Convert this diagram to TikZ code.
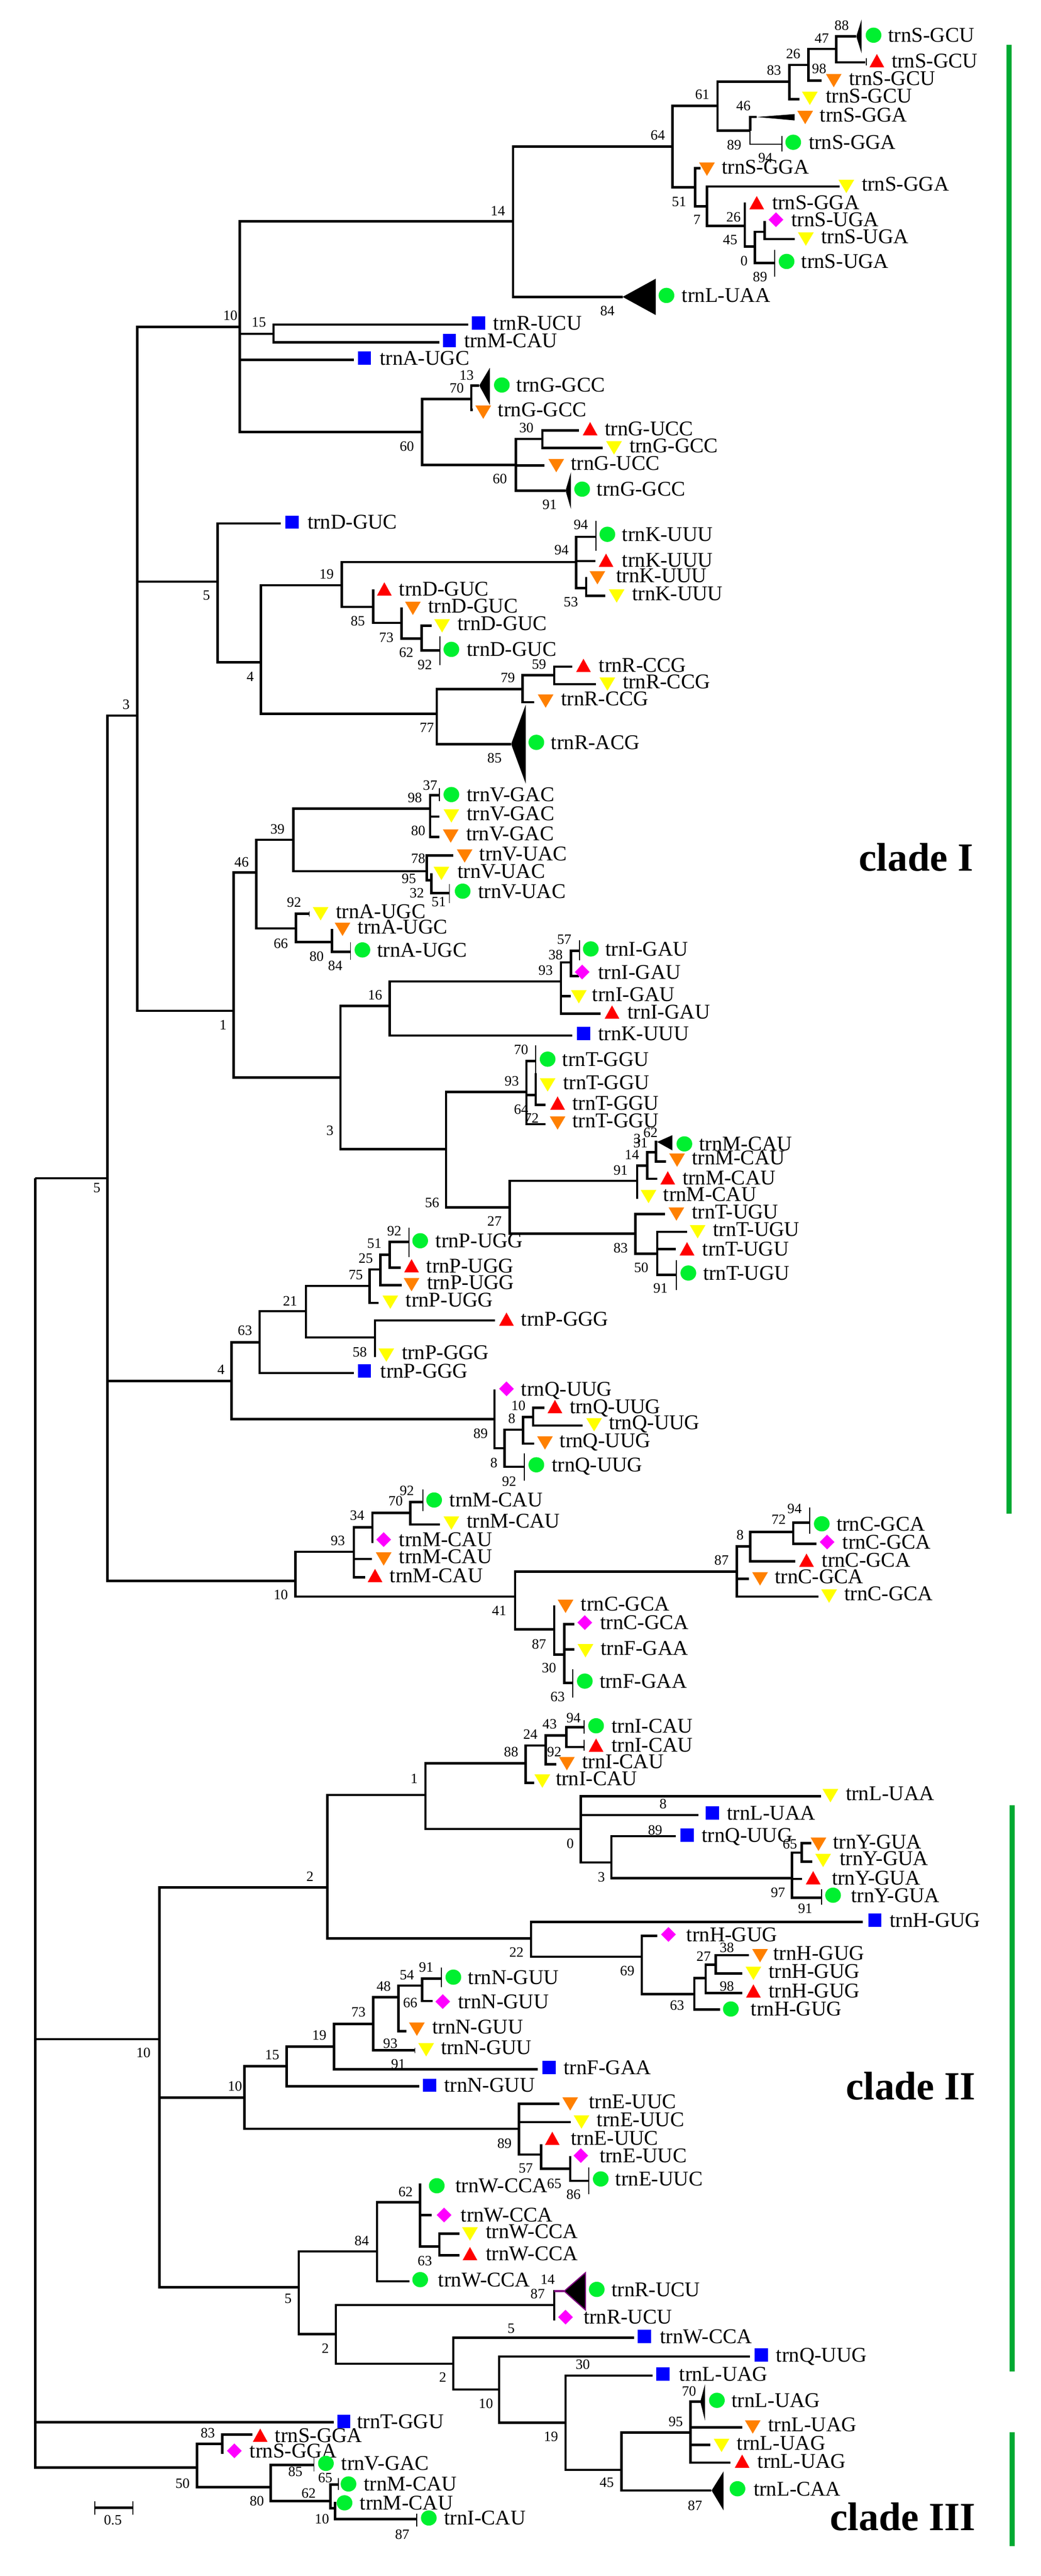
\documentclass[tikz,border=0pt]{standalone}
\usepackage{fontspec}
\setmainfont{Liberation Serif}
\usetikzlibrary{shapes.geometric}
\definecolor{mgreen}{HTML}{00F030}
\definecolor{morange}{HTML}{FF8000}
\definecolor{myellow}{HTML}{FFFF00}
\definecolor{mblue}{HTML}{0000FF}
\definecolor{mmag}{HTML}{FF00FF}
\definecolor{mred}{HTML}{FF0000}
\definecolor{cbar}{HTML}{00AA33}
\definecolor{mpurple}{HTML}{800080}
\tikzset{
 br/.style={line width=2.5pt,black},
 brthin/.style={line width=1.3pt,black},
 tk/.style={line width=1pt,black},
 lab/.style={anchor=west,inner sep=0pt,font=\fontsize{22}{26}\selectfont,text height=14.5pt,text depth=0pt},
 boot/.style={inner sep=0pt,font=\fontsize{15}{17}\selectfont},
 clade/.style={inner sep=0pt,font=\fontsize{42}{48}\selectfont\bfseries},
 mk/.style={inner sep=0pt,minimum width=15.5pt,minimum height=14pt},
 mgc/.style={ellipse,mk,fill=mgreen,minimum width=16.5pt,minimum height=16pt},
 mbs/.style={rectangle,mk,fill=mblue,minimum width=14pt,minimum height=14pt},
 mrt/.style={mk,path picture={\fill[mred] (path picture bounding box.south west)--(path picture bounding box.south east)--(path picture bounding box.north)--cycle;}},
 mot/.style={mk,minimum width=16.5pt,path picture={\fill[morange] (path picture bounding box.north west)--(path picture bounding box.north east)--(path picture bounding box.south)--cycle;}},
 myt/.style={mk,minimum width=16.5pt,path picture={\fill[myellow] (path picture bounding box.north west)--(path picture bounding box.north east)--(path picture bounding box.south)--cycle;}},
 mmd/.style={mk,minimum width=15.5pt,minimum height=15.5pt,path picture={\fill[mmag] (path picture bounding box.north)--(path picture bounding box.east)--(path picture bounding box.south)--(path picture bounding box.west)--cycle;}},
 secA/.style={x=.6977pt,y=-.2551pt},
 secB/.style={x=.6977pt,y=-.2551pt,shift={(0,-400pt)}},
 secC/.style={x=.6977pt,y=-.2551pt,shift={(0,-800pt)}},
 secD/.style={x=.6977pt,y=-.2551pt,shift={(0,-1200pt)}},
 secE/.style={x=.6977pt,y=-.2551pt,shift={(0,-1600pt)}},
 secF/.style={x=.6977pt,y=-.2232pt,shift={(0,-2000pt)}},
 secG/.style={x=.6977pt,y=-.2277pt,shift={(0,-2350pt)}},
}
\newcount\bootc
\newcount\leafc
\def\brs{br}
\def\Tr#1#2#3#4{\coordinate (#2) at (#3,#4);\draw[br] (#1) |- (#2);}
\def\Bs#1#2#3{\global\advance\bootc by 1 \node[boot] (bs\the\bootc) at (#1,#2) {#3};}
\def\Tk#1#2#3{\draw[tk] (#1,#2)--(#1,#3);}
\def\LL#1#2#3#4#5#6#7#8{\global\advance\leafc by 1
 \edef\lid{lf\the\leafc}
 \coordinate (#2) at (#3,#4);
 \draw[\brs] (#1) |- (#2);
 \node[\tp] (\lid) at (#5,#6) {};
 \node[lab,yshift=\ls] (\lid t) at (#7,#6) {#8};}
\def\Lg{\def\tp{mgc}\def\ls{0pt}\LL}
\def\Lr{\def\tp{mrt}\def\ls{0pt}\LL}
\def\Lo{\def\tp{mot}\def\ls{2.5pt}\LL}
\def\Ly{\def\tp{myt}\def\ls{2.5pt}\LL}
\def\Lb{\def\tp{mbs}\def\ls{0pt}\LL}
\def\Lm{\def\tp{mmd}\def\ls{0pt}\LL}
\def\Fan#1#2#3#4{\fill[black] (#1) -- (#2,#3) -- (#2,#4) -- cycle;}
\begin{document}
\begin{tikzpicture}
\useasboundingbox (0,0) rectangle (1094pt,-2707pt);
% clade bars
\fill[cbar] (1057.7pt,-47.2pt) rectangle (1063.3pt,-1590.8pt);
\fill[cbar] (1061.2pt,-1897pt) rectangle (1066.8pt,-2492.3pt);
\fill[cbar] (1061.2pt,-2556pt) rectangle (1066.8pt,-2675.5pt);
%
\begin{scope}[secD]
\coordinate (R) at (53,150);
\Tr{R}{d162}{162}{150}
\Bs{146}{190}{5}
\end{scope}
\begin{scope}[secB]
\Tr{d162}{b207}{207}{1380}
\Bs{190}{1335}{3}
\end{scope}
\begin{scope}[secA]
\Tr{b207}{a361}{361}{1347}\Bs{347}{1300}{10}
\Tr{a361}{a773}{773}{912}\Bs{750}{868}{14}
\Tr{a773}{a1013}{1013}{604}\Bs{991}{558}{64}
\Lg{a773}{t1}{938}{1223}{1004}{1217}{1027}{trnL-UAA}\Fan{t1}{988}{1148}{1298}\Bs{915}{1280}{84}
\Tr{a1013}{a1081}{1081}{436}\Bs{1058}{390}{61}
\Tr{a1081}{a1189}{1189}{337}\Bs{1166}{290}{83}
\Tr{a1189}{a1218}{1218}{267}\Bs{1195}{222}{26}
\Ly{a1189}{t2}{1204}{408}{1220}{405}{1244}{trnS-GCU}
\Tr{a1218}{a1260}{1260}{202}\Bs{1238}{158}{47}
\Lo{a1218}{t3}{1238}{332}{1256}{332}{1279}{trnS-GCU}\Bs{1234}{283}{98}
\Lg{a1260}{t4}{1290}{150}{1316}{145}{1338}{trnS-GCU}\Fan{t4}{1298}{80}{220}\Bs{1268}{105}{88}
\Lr{a1260}{t5}{1304}{257}{1321}{250}{1343}{trnS-GCU}\Tk{1305}{240}{270}
\Tr{a1081}{a1130}{1130}{538}\Bs{1120}{437}{46}
\Lo{a1130}{t6}{1140}{482}{1213}{484}{1235}{trnS-GGA}\Fan{t6}{1197}{470}{496}\Bs{1106}{597}{89}
{\def\brs{brthin}\Lg{a1130}{t7}{1178}{594}{1195}{586}{1218}{trnS-GGA}}\Tk{1178}{560}{625}
\Tr{a1013}{a1047}{1047}{772}\Bs{1023}{830}{51}
\Lo{a1047}{t8}{1055}{693}{1065}{697}{1087}{trnS-GGA}\Bs{1153}{650}{94}
\Tr{a1047}{a1065}{1065}{850}\Bs{1050}{905}{7}
\Ly{a1065}{t9}{1265}{768}{1275}{768}{1298}{trnS-GGA}
\Tr{a1065}{a1122}{1122}{930}\Bs{1105}{895}{26}
\Lr{a1122}{t10}{1122}{835}{1140}{835}{1163}{trnS-GGA}
\Tr{a1122}{a1137}{1137}{1015}\Bs{1100}{988}{45}
\Tr{a1137}{a1152}{1152}{955}
\Lm{a1152}{t11}{1152}{910}{1169}{905}{1192}{trnS-UGA}
\Ly{a1152}{t12}{1197}{985}{1214}{985}{1237}{trnS-UGA}
\Lg{a1137}{t13}{1167}{1083}{1185}{1077}{1207}{trnS-UGA}\Tk{1167}{1030}{1140}\Bs{1121}{1075}{0}\Bs{1145}{1140}{89}
\Tr{a361}{a412}{412}{1375}\Bs{390}{1328}{15}
\Lb{a412}{t14}{705}{1337}{721}{1331}{743}{trnR-UCU}
\Lb{a412}{t15}{662}{1410}{677}{1403}{699}{trnM-CAU}
\Lb{a361}{t16}{533}{1482}{549}{1475}{572}{trnA-UGC}
\end{scope}
\begin{scope}[secB]
\Tr{a361}{b636}{636}{212}\Bs{613}{270}{60}
\Tr{b636}{b710}{710}{76}\Bs{688}{32}{70}
\Lg{b710}{t17}{722}{20}{756}{18}{778}{trnG-GCC}\Fan{t17}{738}{-53}{100}\Bs{703}{-23}{13}
\Lo{b710}{t18}{712}{120}{728}{130}{750}{trnG-GCC}
\Tr{b636}{b777}{777}{347}\Bs{753}{405}{60}
\Tr{b777}{b817}{817}{240}\Bs{793}{195}{30}
\Lr{b817}{t19}{872}{205}{889}{198}{911}{trnG-UCC}
\Ly{b817}{t20}{908}{277}{925}{277}{948}{trnG-GCC}
\Lo{b777}{t21}{820}{350}{838}{350}{860}{trnG-UCC}
\Lg{b777}{t22}{852}{453}{877}{447}{899}{trnG-GCC}\Fan{t22}{860}{378}{528}\Bs{828}{510}{91}
% second block
\Tr{b207}{b328}{328}{828}\Bs{311}{885}{5}
\Lb{b328}{t23}{423}{588}{440}{583}{463}{trnD-GUC}
\Tr{b328}{b393}{393}{1160}\Bs{377}{1220}{4}
\Tr{b393}{b515}{515}{843}\Bs{492}{797}{19}
\Tr{b515}{b868}{868}{747}\Bs{846}{697}{94}
\Lg{b868}{t24}{898}{643}{915}{633}{937}{trnK-UUU}\Tk{898}{578}{700}\Bs{875}{593}{94}
\Lr{b868}{t25}{897}{743}{913}{740}{937}{trnK-UUU}
\Tr{b868}{b883}{883}{855}\Bs{860}{912}{53}
\Lo{b883}{t26}{883}{810}{900}{812}{928}{trnK-UUU}
\Ly{b883}{t27}{912}{887}{929}{887}{952}{trnK-UUU}
\Tr{b515}{b562}{562}{932}\Bs{539}{990}{85}
\Lr{b562}{t28}{562}{860}{579}{858}{601}{trnD-GUC}
\Tr{b562}{b605}{605}{998}\Bs{582}{1058}{73}
\Lo{b605}{t29}{605}{935}{622}{938}{645}{trnD-GUC}
\Tr{b605}{b635}{635}{1063}\Bs{612}{1120}{62}
\Ly{b635}{t30}{650}{1010}{666}{1010}{689}{trnD-GUC}
\Lg{b635}{t31}{663}{1112}{680}{1107}{703}{trnD-GUC}\Tk{663}{1052}{1172}\Bs{640}{1170}{92}
\Tr{b393}{b658}{658}{1373}\Bs{643}{1430}{77}
\Tr{b658}{b787}{787}{1270}\Bs{765}{1223}{79}
\Tr{b787}{b835}{835}{1213}\Bs{812}{1168}{59}
\Lo{b787}{t32}{805}{1325}{822}{1320}{845}{trnR-CCG}
\Lr{b835}{t33}{862}{1178}{879}{1173}{902}{trnR-CCG}
\Ly{b835}{t34}{898}{1250}{915}{1250}{938}{trnR-CCG}
\Lg{b658}{t35}{770}{1497}{808}{1490}{830}{trnR-ACG}\Fan{t35}{792}{1335}{1660}\Bs{745}{1555}{85}
\end{scope}
\begin{scope}[secC]
\Tr{b207}{c352}{352}{1028}\Bs{336}{1087}{1}
\Tr{c352}{c386}{386}{458}\Bs{364}{415}{46}
\Tr{c386}{c442}{442}{323}\Bs{418}{280}{39}
\Tr{c442}{c648}{648}{195}\Bs{625}{150}{98}
\Lg{c648}{t36}{662}{140}{680}{137}{703}{trnV-GAC}\Tk{662}{110}{165}\Bs{648}{100}{37}
\Ly{c648}{t37}{662}{228}{680}{225}{703}{trnV-GAC}
\Lo{c648}{t38}{662}{312}{679}{308}{702}{trnV-GAC}\Bs{630}{287}{80}
\Tr{c442}{c643}{643}{453}\Bs{616}{483}{95}
\Lo{c643}{t39}{683}{388}{700}{390}{722}{trnV-UAC}\Bs{630}{400}{78}
\Tr{c643}{c650}{650}{490}\Bs{628}{542}{32}
\Ly{c650}{t40}{650}{462}{665}{462}{689}{trnV-UAC}
\Lg{c650}{t41}{677}{543}{697}{535}{720}{trnV-UAC}\Tk{677}{505}{585}\Bs{661}{578}{51}
\Tr{c386}{c446}{446}{688}\Bs{423}{750}{66}
\Ly{c446}{t42}{466}{628}{483}{628}{506}{trnA-UGC}\Tk{466}{618}{640}\Bs{443}{582}{92}
\Tr{c446}{c500}{500}{745}\Bs{477}{803}{80}
\Lo{c500}{t43}{500}{690}{516}{692}{539}{trnA-UGC}
\Lg{c500}{t44}{528}{785}{546}{777}{568}{trnA-UGC}\Tk{528}{745}{818}\Bs{505}{843}{84}
\Tr{c352}{c513}{513}{1303}\Bs{497}{1522}{3}
\Tr{c513}{c587}{587}{1008}\Bs{565}{963}{16}
\Tr{c587}{c845}{845}{907}\Bs{822}{862}{93}
\Lb{c587}{t45}{862}{1130}{879}{1122}{901}{trnK-UUU}
\Tr{c845}{c860}{860}{828}\Bs{837}{797}{38}
\Ly{c845}{t46}{860}{967}{872}{970}{892}{trnI-GAU}
\Lr{c845}{t47}{905}{1040}{922}{1033}{945}{trnI-GAU}
\Lg{c860}{t48}{873}{780}{890}{773}{912}{trnI-GAU}\Tk{873}{738}{820}\Bs{850}{735}{57}
\Lm{c860}{t49}{872}{885}{877}{868}{901}{trnI-GAU}
\end{scope}
\begin{scope}[secD]
\Tr{c513}{d672}{672}{30}
\end{scope}
\begin{scope}[secC]
\Tr{d672}{c793}{793}{1362}\Bs{771}{1317}{93}
\Lg{c793}{t50}{807}{1235}{825}{1227}{847}{trnT-GGU}\Tk{807}{1170}{1290}\Bs{785}{1187}{70}
\Tr{c793}{c807}{807}{1375}\Bs{785}{1435}{64}
\Ly{c807}{t51}{807}{1285}{825}{1333}{848}{trnT-GGU}
\Lr{c807}{t52}{822}{1415}{840}{1408}{862}{trnT-GGU}
\Lo{c793}{t53}{822}{1495}{840}{1490}{862}{trnT-GGU}\Bs{801}{1470}{72}
\end{scope}
\begin{scope}[secD]
\Bs{651}{250}{56}
\Tr{d672}{d768}{768}{270}\Bs{745}{327}{27}
\Tr{d768}{d960}{960}{160}\Bs{935}{117}{91}
\Tr{d960}{d975}{975}{98}\Bs{952}{52}{14}
\Tr{d975}{d988}{988}{42}
\Lg{d988}{t54}{990}{0}{1031}{8}{1053}{trnM-CAU}\Fan{t54}{1013}{-28}{35}\Bs{980}{-38}{62}\Bs{960}{-13}{3}\Bs{965}{5}{31}
\Lo{d988}{t55}{1003}{80}{1020}{75}{1042}{trnM-CAU}
\Lr{d975}{t56}{990}{152}{1006}{148}{1028}{trnM-CAU}
\Ly{d960}{t57}{960}{235}{977}{225}{999}{trnM-CAU}
\Tr{d768}{d957}{957}{378}\Bs{935}{437}{83}
\Lo{d957}{t58}{1002}{297}{1019}{297}{1042}{trnT-UGU}
\Tr{d957}{d990}{990}{460}\Bs{966}{518}{50}
\Ly{d990}{t59}{1035}{370}{1051}{370}{1074}{trnT-UGU}
\Lr{d990}{t60}{1018}{442}{1035}{440}{1058}{trnT-UGU}
\Lg{d990}{t61}{1019}{548}{1037}{540}{1059}{trnT-UGU}\Tk{1019}{488}{610}\Bs{995}{603}{91}
% P / Q block
\Tr{d162}{d349}{349}{985}\Bs{333}{937}{4}
\Tr{d349}{d391}{391}{825}\Bs{369}{777}{63}
\Tr{d391}{d461}{461}{697}\Bs{437}{655}{21}
\Lb{d391}{t62}{533}{952}{549}{943}{573}{trnP-GGG}
\Tr{d461}{d557}{557}{593}\Bs{536}{547}{75}
\Tr{d557}{d573}{573}{525}\Bs{551}{480}{25}
\Ly{d557}{t63}{570}{663}{588}{660}{611}{trnP-UGG}
\Tr{d573}{d587}{587}{465}\Bs{564}{418}{51}
\Lo{d573}{t64}{605}{590}{620}{588}{643}{trnP-UGG}
\Lg{d587}{t65}{616}{412}{633}{407}{656}{trnP-UGG}\Tk{616}{353}{475}\Bs{594}{368}{92}
\Lr{d587}{t66}{604}{518}{620}{510}{642}{trnP-UGG}
\Tr{d461}{d565}{565}{805}
\Lr{d565}{t67}{746}{735}{763}{730}{785}{trnP-GGG}
\Ly{d565}{t68}{565}{885}{582}{878}{605}{trnP-GGG}\Bs{542}{865}{58}
\Tr{d349}{d745}{745}{1142}\Bs{724}{1200}{89}
\Lm{d745}{t69}{745}{1020}{763}{1017}{785}{trnQ-UUG}
\Tr{d745}{d760}{760}{1262}
\Tr{d760}{d788}{788}{1185}\Bs{771}{1140}{8}
\Lg{d760}{t70}{790}{1338}{808}{1330}{831}{trnQ-UUG}\Tk{790}{1283}{1395}\Bs{744}{1322}{8}\Bs{767}{1398}{92}
\Tr{d788}{d803}{803}{1133}\Bs{781}{1087}{10}
\Lo{d788}{t71}{805}{1243}{821}{1240}{843}{trnQ-UUG}
\Lr{d803}{t72}{820}{1095}{836}{1090}{858}{trnQ-UUG}
\Ly{d803}{t73}{878}{1168}{895}{1165}{917}{trnQ-UUG}
\end{scope}
\begin{scope}[secE]
\Tr{d162}{e445}{445}{240}\Bs{423}{298}{10}
\Tr{e445}{e533}{533}{120}\Bs{509}{75}{93}
\Tr{e533}{e561}{561}{20}
\Tr{e561}{e618}{618}{-40}\Bs{538}{-30}{34}
\Lg{e618}{t74}{637}{-85}{654}{-93}{677}{trnM-CAU}\Tk{637}{-136}{-48}\Bs{596}{-88}{70}\Bs{613}{-132}{92}
\Ly{e618}{t75}{663}{8}{680}{2}{703}{trnM-CAU}
\Lm{e561}{t76}{561}{85}{578}{70}{601}{trnM-CAU}
\Lo{e533}{t77}{560}{150}{578}{150}{601}{trnM-CAU}
\Lr{e533}{t78}{550}{225}{565}{218}{587}{trnM-CAU}
\Tr{e445}{e776}{776}{305}\Bs{752}{362}{41}
\Tr{e776}{e1110}{1110}{202}\Bs{1087}{155}{87}
\Tr{e1110}{e1130}{1130}{98}\Bs{1115}{52}{8}
\Tr{e1130}{e1195}{1195}{38}\Bs{1173}{-13}{72}
\Lg{e1195}{t79}{1220}{0}{1238}{5}{1260}{trnC-GCA}\Tk{1220}{-63}{45}\Bs{1197}{-58}{94}
\Lm{e1195}{t80}{1230}{88}{1246}{80}{1269}{trnC-GCA}
\Lr{e1130}{t81}{1198}{160}{1215}{155}{1238}{trnC-GCA}
\Lo{e1110}{t82}{1128}{232}{1145}{232}{1167}{trnC-GCA}
\Ly{e1110}{t83}{1233}{305}{1249}{303}{1272}{trnC-GCA}
\Tr{e776}{e835}{835}{440}\Bs{812}{500}{87}
\Lo{e835}{t84}{835}{342}{852}{345}{875}{trnC-GCA}
\Tr{e835}{e850}{850}{543}\Bs{827}{598}{30}
\Lm{e850}{t85}{865}{418}{881}{412}{904}{trnC-GCA}
\Ly{e850}{t86}{865}{522}{882}{528}{905}{trnF-GAA}
\Lg{e850}{t87}{863}{660}{881}{653}{903}{trnF-GAA}\Tk{863}{605}{720}\Bs{840}{718}{63}
\end{scope}
\begin{scope}[secF]
\Tr{R}{f240}{240}{640}\Bs{216}{705}{10}
\end{scope}
\begin{scope}[secE]
\Tr{f240}{e493}{493}{1503}\Bs{467}{1458}{2}
\Tr{e493}{e641}{641}{1122}\Bs{624}{1055}{1}
\Tr{e641}{e792}{792}{992}\Bs{770}{945}{88}
\Tr{e792}{e822}{822}{918}\Bs{799}{873}{24}
\Ly{e792}{t88}{805}{1072}{817}{1065}{837}{trnI-CAU}
\Tr{e822}{e853}{853}{877}\Bs{828}{830}{43}
\Lo{e822}{t89}{838}{996}{854}{993}{877}{trnI-CAU}\Bs{835}{945}{92}
\Lg{e853}{t90}{880}{843}{898}{837}{921}{trnI-CAU}\Tk{880}{815}{870}\Bs{864}{805}{94}
\Lr{e853}{t91}{880}{925}{898}{917}{921}{trnI-CAU}\Tk{880}{895}{940}
\Tr{e641}{e875}{875}{1262}\Bs{859}{1322}{0}
\Ly{e875}{t92}{1237}{1127}{1251}{1125}{1274}{trnL-UAA}
\Lb{e875}{t93}{1052}{1205}{1073}{1197}{1095}{trnL-UAA}\Bs{999}{1158}{8}
\Tr{e875}{e921}{921}{1400}\Bs{906}{1460}{3}
\Lb{e921}{t94}{1018}{1292}{1035}{1288}{1057}{trnQ-UUG}\Bs{987}{1267}{89}
\Tr{e921}{e1193}{1193}{1465}\Bs{1172}{1525}{97}
\Tr{e1193}{e1208}{1208}{1360}\Bs{1190}{1325}{65}
\Lo{e1208}{t95}{1222}{1320}{1233}{1325}{1255}{trnY-GUA}
\Ly{e1208}{t96}{1224}{1397}{1240}{1392}{1265}{trnY-GUA}
\Lr{e1193}{t97}{1208}{1468}{1225}{1463}{1253}{trnY-GUA}
\Lg{e1193}{t98}{1238}{1545}{1255}{1535}{1282}{trnY-GUA}\Tk{1238}{1510}{1573}
\end{scope}
\begin{scope}[secF]
\Bs{1213}{25}{91}
\Tr{e493}{f800}{800}{165}\Bs{778}{230}{22}
\Lb{f800}{t99}{1300}{88}{1318}{80}{1340}{trnH-GUG}
\Tr{f800}{f967}{967}{252}\Bs{945}{318}{69}
\Lm{f967}{t100}{990}{153}{1007}{147}{1034}{trnH-GUG}
\Tr{f967}{f1046}{1046}{428}\Bs{1020}{482}{63}
\Tr{f1046}{f1063}{1063}{352}\Bs{1060}{250}{27}
\Lg{f1046}{t101}{1085}{500}{1101}{498}{1131}{trnH-GUG}
\Tr{f1063}{f1078}{1078}{290}\Bs{1095}{208}{38}
\Lr{f1063}{t102}{1118}{423}{1135}{413}{1158}{trnH-GUG}\Bs{1095}{392}{98}
\Lo{f1078}{t103}{1128}{245}{1145}{247}{1165}{trnH-GUG}
\Ly{f1078}{t104}{1118}{330}{1135}{330}{1158}{trnH-GUG}
\Tr{f240}{f368}{368}{915}\Bs{354}{862}{10}
\Tr{f368}{f432}{432}{768}\Bs{410}{715}{15}
\Tr{f432}{f503}{503}{675}\Bs{481}{622}{19}
\Lb{f432}{t105}{632}{862}{647}{857}{669}{trnN-GUU}
\Tr{f503}{f562}{562}{568}\Bs{540}{513}{73}
\Lb{f503}{t106}{810}{782}{827}{773}{849}{trnF-GAA}\Bs{600}{757}{91}
\Tr{f562}{f600}{600}{442}\Bs{578}{392}{48}
\Ly{f562}{t107}{625}{692}{642}{690}{664}{trnN-GUU}\Tk{625}{680}{705}\Bs{588}{660}{93}
\Tr{f600}{f636}{636}{388}\Bs{613}{338}{54}
\Lo{f600}{t108}{612}{603}{628}{593}{651}{trnN-GUU}\Bs{618}{470}{66}
\Lg{f636}{t109}{665}{355}{683}{348}{705}{trnN-GUU}\Tk{665}{303}{395}\Bs{642}{302}{91}
\Lm{f636}{t110}{652}{460}{667}{463}{690}{trnN-GUU}
\Tr{f368}{f782}{782}{1062}\Bs{760}{1130}{89}
\Lo{f782}{t111}{843}{945}{859}{945}{887}{trnE-UUC}
\Ly{f782}{t112}{860}{1030}{876}{1030}{899}{trnE-UUC}
\Tr{f782}{f815}{815}{1183}\Bs{792}{1248}{57}
\Lr{f815}{t113}{815}{1135}{832}{1107}{860}{trnE-UUC}
\Tr{f815}{f859}{859}{1250}
\Lm{f859}{t114}{859}{1190}{875}{1188}{903}{trnE-UUC}
\Lg{f859}{t115}{887}{1307}{905}{1298}{927}{trnE-UUC}\Tk{887}{1245}{1370}\Bs{835}{1320}{65}\Bs{864}{1372}{86}
\end{scope}
\begin{scope}[secG]
\Tr{f240}{g450}{450}{235}\Bs{434}{287}{5}
\Tr{g450}{g568}{568}{70}\Bs{545}{20}{84}
\Lg{g568}{t116}{617}{208}{633}{200}{660}{trnW-CCA}
\Tr{g450}{g506}{506}{452}\Bs{490}{518}{2}
\Tr{g506}{g835}{835}{317}\Bs{810}{265}{87}
\Lg{g835}{t117}{850}{253}{899}{245}{921}{trnR-UCU}
\fill[black,draw=mpurple,line width=1.2pt] (t117) -- (882,168) -- (882,340) -- cycle;
\draw[line width=2.5pt,mpurple] (835,253) -- (t117);
\Bs{825}{200}{14}
\Lm{g835}{t118}{835}{388}{852}{373}{879}{trnR-UCU}
\Tr{g506}{g683}{683}{588}\Bs{667}{650}{2}
\Lb{g683}{t119}{955}{468}{971}{462}{994}{trnW-CCA}\Bs{770}{425}{5}
\Tr{g683}{g752}{752}{707}\Bs{732}{773}{10}
\Lb{g752}{t120}{1130}{555}{1147}{548}{1169}{trnQ-UUG}\Bs{878}{592}{30}
\Tr{g752}{g852}{852}{860}\Bs{830}{925}{19}
\Lb{g852}{t121}{983}{643}{999}{635}{1023}{trnL-UAG}
\Tr{g852}{g936}{936}{1078}\Bs{914}{1135}{45}
\Tr{g936}{g1040}{1040}{905}\Bs{1018}{855}{95}
\Lg{g936}{t122}{1072}{1173}{1111}{1165}{1135}{trnL-CAA}\Fan{t122}{1090}{1085}{1265}\Bs{1047}{1242}{87}
\Lg{g1040}{t123}{1055}{763}{1080}{757}{1102}{trnL-UAG}\Fan{t123}{1062}{683}{850}\Bs{1038}{715}{70}
\Lo{g1040}{t124}{1118}{882}{1134}{880}{1157}{trnL-UAG}
\Ly{g1040}{t125}{1070}{962}{1087}{965}{1110}{trnL-UAG}
\Lr{g1040}{t126}{1100}{1045}{1118}{1038}{1141}{trnL-UAG}
\Lb{R}{t127}{503}{858}{518}{855}{538}{trnT-GGU}
\Tr{R}{g297}{297}{1067}\Bs{275}{1140}{50}
\Tr{g297}{g335}{335}{958}\Bs{313}{908}{83}
\Lr{g335}{t128}{380}{915}{392}{918}{414}{trnS-GGA}
\Lm{g335}{t129}{335}{1005}{353}{990}{376}{trnS-GGA}
\Tr{g297}{g408}{408}{1158}\Bs{387}{1222}{80}
\Lg{g408}{t130}{473}{1055}{491}{1048}{514}{trnV-GAC}\Tk{473}{1020}{1085}\Bs{445}{1085}{85}
\Tr{g408}{g498}{498}{1222}\Bs{465}{1187}{62}
\Lg{g498}{t131}{510}{1145}{525}{1143}{548}{trnM-CAU}\Tk{510}{1115}{1170}\Bs{490}{1115}{65}
\Tr{g498}{g505}{505}{1255}
\Lg{g505}{t132}{507}{1230}{519}{1230}{542}{trnM-CAU}
\Lg{g505}{t133}{628}{1305}{646}{1300}{669}{trnI-CAU}\Tk{628}{1280}{1340}\Bs{485}{1305}{10}\Bs{606}{1375}{87}
% scale bar
\coordinate (sbL) at (143,1253);
\coordinate (sbR) at (200,1253);
\draw[br] (sbL) -- (sbR);
\Tk{143}{1222}{1285}
\Tk{200}{1222}{1285}
\Bs{170}{1310}{0.5}
\node[clade] (cladeIII) at (1360,1295) {clade III};
\end{scope}
\begin{scope}[secC]
\node[clade] (cladeI) at (1380,395) {clade I};
\end{scope}
\begin{scope}[secF]
\node[clade] (cladeII) at (1372,860) {clade II};
% W-CCA group
\Tr{g568}{f633}{633}{1408}\Bs{611}{1358}{62}
\Lg{f633}{t134}{633}{1320}{658}{1330}{686}{trnW-CCA}
\Lm{f633}{t135}{650}{1468}{669}{1468}{694}{trnW-CCA}
\end{scope}
\begin{scope}[secG]
\Tr{f633}{g662}{662}{47}\Bs{640}{113}{63}
\Lr{g662}{t136}{692}{87}{708}{80}{732}{trnW-CCA}
\end{scope}
\begin{scope}[secF]
\Ly{g662}{t137}{692}{1555}{708}{1557}{732}{trnW-CCA}
\end{scope}
\end{tikzpicture}
\end{document}
